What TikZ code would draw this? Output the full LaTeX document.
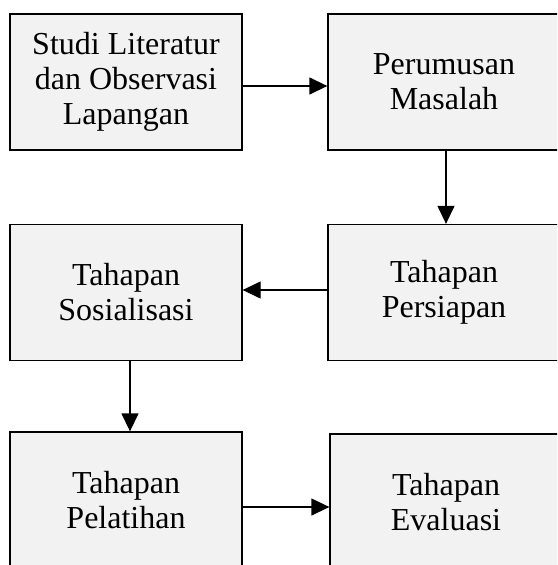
\documentclass[tikz,border=0pt]{standalone}
\usepackage{fontspec}
\setmainfont{Liberation Serif}
\usetikzlibrary{arrows.meta}
\definecolor{boxfill}{HTML}{F2F2F2}
\tikzset{
  stepbox/.style={draw=black, fill=boxfill, line width=1.3pt, minimum width=232pt, minimum height=136pt,
    align=center, inner sep=0pt, font=\fontsize{32pt}{35pt}\selectfont},
  flow/.style={line width=1.3pt, -{Triangle[length=18pt,width=17pt]}}
}
\begin{document}
\begin{tikzpicture}[x=1pt,y=-1pt]
\useasboundingbox (0,0) rectangle (557,565);
\clip (0,0) rectangle (557,565);
\node[stepbox] (b1) at (126,82) {Studi Literatur\\dan Observasi\\Lapangan};
\node[stepbox] (b2) at (444,82) {Perumusan\\Masalah};
\node[stepbox] (b3) at (126,292.5) {Tahapan\\Sosialisasi};
\node[stepbox] (b4) at (444,292.5) {Tahapan\\Persiapan};
\node[stepbox] (b5) at (126,500) {Tahapan\\Pelatihan};
\node[stepbox] (b6) at (446,502) {Tahapan\\Evaluasi};
\draw[flow] ([yshift=-4pt]b1.east) -- ([yshift=-4pt]b2.west);
\draw[flow] ([xshift=2pt]b2.south) -- ([xshift=2pt]b4.north);
\draw[flow] ([yshift=2.5pt]b4.west) -- ([yshift=2.5pt]b3.east);
\draw[flow] ([xshift=4pt]b3.south) -- ([xshift=4pt]b5.north);
\draw[flow] ([yshift=-7pt]b5.east) -- ([yshift=-5pt]b6.west);
\end{tikzpicture}
\end{document}
